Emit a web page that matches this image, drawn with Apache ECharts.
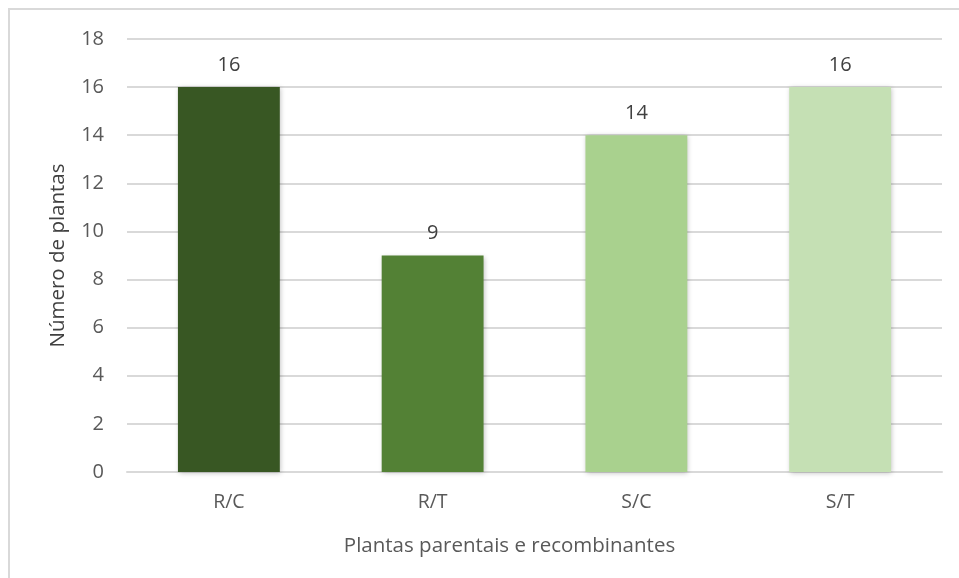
<!DOCTYPE html>
<html>
<head>
<meta charset="utf-8">
<script src="https://cdn.jsdelivr.net/npm/echarts@6/dist/echarts.min.js"></script>
<style>
  html, body { margin: 0; padding: 0; background: #fff; }
  #frame { position: absolute; left: 8px; top: 8px; width: 1000px; height: 700px; border: 2px solid #d9d9d9; box-sizing: border-box; }
  #chart { position: absolute; left: 0; top: 0; width: 959px; height: 578px; }
</style>
</head>
<body>
<div id="frame"></div>
<div id="chart"></div>
<script>
const categories = ['R/C', 'R/T', 'S/C', 'S/T'];
const values = [16, 9, 14, 16];
const barColors = ['#385723', '#538135', '#a9d18e', '#c5e0b4'];

const chart = echarts.init(document.getElementById('chart'));
const font = '"Open Sans", "Noto Sans", sans-serif';

chart.setOption({
  animation: false,
  grid: { left: 127, right: 17, top: 39, bottom: 106 },
  xAxis: {
    type: 'category',
    data: categories,
    axisLine: { show: true, lineStyle: { color: '#d9d9d9', width: 2 } },
    axisTick: { show: false },
    axisLabel: { color: '#595959', fontSize: 19.5, fontFamily: font, margin: 20 },
    name: 'Plantas parentais e recombinantes',
    nameLocation: 'middle',
    nameGap: 64,
    nameTextStyle: { color: '#595959', fontSize: 20.5, fontFamily: font, padding: [0, 50, 0, 0] }
  },
  yAxis: {
    type: 'value',
    min: 0,
    max: 18,
    interval: 2,
    axisLine: { show: false },
    axisTick: { show: false },
    splitLine: { lineStyle: { color: '#d9d9d9', width: 2 } },
    axisLabel: { color: '#595959', fontSize: 20, fontFamily: font, margin: 23 },
    name: 'Número de plantas',
    nameLocation: 'middle',
    nameRotate: 90,
    nameGap: 58,
    nameTextStyle: { color: '#404040', fontSize: 20.5, fontFamily: font }
  },
  series: [{
    type: 'bar',
    barWidth: '50%',
    data: values.map((v, i) => ({
      value: v,
      itemStyle: { color: barColors[i] }
    })),
    itemStyle: { shadowColor: 'rgba(0,0,0,0.25)', shadowBlur: 5, shadowOffsetX: 1, shadowOffsetY: 1 },
    label: {
      show: true,
      position: 'top',
      distance: 12,
      color: '#404040',
      fontSize: 20,
      fontFamily: font
    }
  }]
});
</script>
</body>
</html>
